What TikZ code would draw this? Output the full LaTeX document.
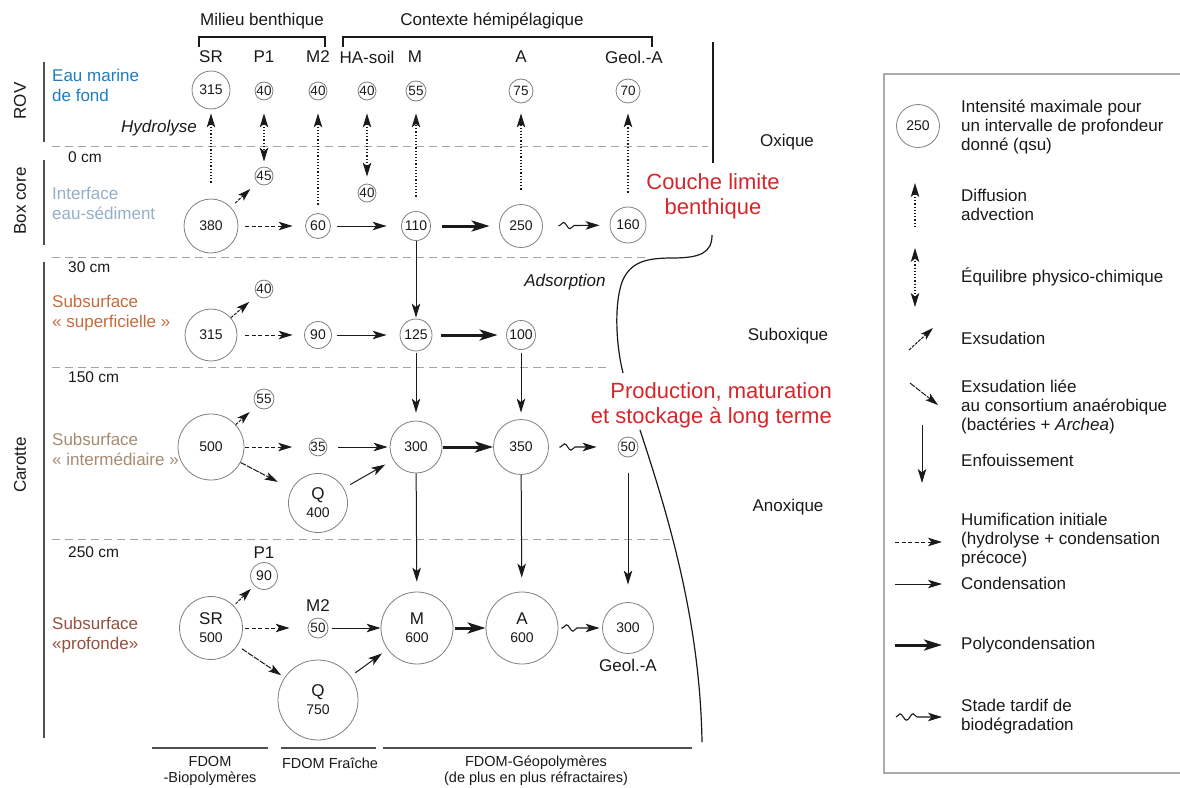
\documentclass[tikz,border=0pt]{standalone}
\usepackage{fontspec}
\setmainfont{Liberation Sans}
\usetikzlibrary{arrows.meta,decorations.pathmorphing}

\definecolor{seablue}{HTML}{1F7DC0}
\definecolor{ifblue}{HTML}{94AFC7}
\definecolor{supcol}{HTML}{C56B3D}
\definecolor{intcol}{HTML}{A58B70}
\definecolor{profcol}{HTML}{95513F}
\definecolor{redtxt}{HTML}{D7262B}
\definecolor{ringgray}{HTML}{808080}
\definecolor{sepgray}{HTML}{A3A3A3}
\definecolor{ink}{HTML}{1A1A1A}
\definecolor{bargray}{HTML}{505050}
\definecolor{boxgray}{HTML}{ABABAB}

\newcommand{\bigletter}[1]{{\fontsize{17}{18}\selectfont #1}}

\tikzset{
  bub/.style={circle, draw=ringgray, line width=0.8pt, inner sep=0pt,
    minimum size=#1, font=\fontsize{14}{18}\selectfont, text=ink, align=center},
  sbub/.style={bub=#1, font=\fontsize{13.5}{14}\selectfont},
  lab/.style={font=\fontsize{17}{20}\selectfont, text=ink, inner sep=0pt},
  leg/.style={font=\fontsize{17}{19}\selectfont, text=ink, inner sep=0pt, anchor=west, align=left},
  side/.style={font=\fontsize{17}{20}\selectfont, inner sep=0pt, anchor=west, align=left},
  depth/.style={font=\fontsize{15.5}{18}\selectfont, text=ink, inner sep=0pt, anchor=west},
  foot/.style={font=\fontsize{14.5}{16}\selectfont, text=ink, inner sep=0pt, align=center},
  redlab/.style={font=\fontsize{22}{25}\selectfont, text=redtxt, inner sep=0pt},
  sep/.style={draw=sepgray, line width=1pt, dash pattern=on 8pt off 5pt},
  bar/.style={draw=bargray, line width=1.6pt},
  head/.tip={Stealth[length=14pt,width=8.5pt,inset=3.5pt]},
  tip/.style={-head},
  cond/.style={draw=ink, line width=1pt, tip},
  poly/.style={draw=ink, line width=3pt, -{Stealth[length=18pt,width=11pt,inset=4.5pt]}},
  humi/.style={cond, dash pattern=on 4pt off 2.5pt},
  diff/.style={draw=ink, line width=1.1pt, dash pattern=on 1.2pt off 2pt, tip},
  equi/.style={draw=ink, line width=1.1pt, dash pattern=on 1.2pt off 2pt, head-head},
  exsud/.style={draw=ink, line width=1pt, dash pattern=on 3pt off 1.2pt,
    -{Stealth[length=13pt,width=8pt,inset=3pt]}},
  exsan/.style={draw=ink, line width=1pt, dash pattern=on 6pt off 1.2pt,
    -{Stealth[length=13pt,width=8pt,inset=3pt]}},
  sh/.style 2 args={shorten <=#1pt, shorten >=#2pt},
  wavy/.style n args={4}{cond, line width=1.1pt, decorate,
    decoration={snake, amplitude=3.2pt, segment length=13pt,
      pre length=#1pt, post length=#3pt},
    shorten <=#2pt, shorten >=#4pt},
}

\begin{document}
\begin{tikzpicture}[x=1pt,y=-1pt]
\clip (0,0) rectangle (1180,787);
\fill[white] (0,0) rectangle (1180,787);

% ---------- column headings ----------
\node[lab] (hmil) at (262,21) {Milieu benthique};
\node[lab] (hctx) at (492,21) {Contexte hémipélagique};
\draw[draw=ink, line width=1.2pt] (199,47) -- (199,37) -- (325,37) -- (325,47);
\draw[draw=ink, line width=1.2pt] (343,47) -- (343,37) -- (652,37) -- (652,47);
\node[lab] (cSR) at (211,57) {SR};
\node[lab] (cP1) at (264,57) {P1};
\node[lab] (cM2) at (318,57) {M2};
\node[lab] (cHA) at (367,57) {HA-soil};
\node[lab] (cM)  at (415,57) {M};
\node[lab] (cA)  at (521,57) {A};
\node[lab] (cG)  at (634,57) {Geol.-A};

% ---------- left side: sampling and layers ----------
\draw[bar] (44,62) -- (44,142);
\draw[bar] (44,160) -- (44,245);
\draw[bar] (44,262) -- (44,738);
\node[lab, rotate=90] (tROV) at (20,101) {ROV};
\node[lab, rotate=90] (tBox) at (20,201) {Box core};
\node[lab, rotate=90] (tCar) at (20,465) {Carotte};

\node[side, text=seablue] (lEau) at (52,85) {Eau marine\\de fond};
\node[side, text=ifblue] (lInt) at (52,203) {Interface\\eau-sédiment};
\node[side, text=supcol] (lSup) at (52,313) {Subsurface\\« superficielle »};
\node[side, text=intcol] (lMid) at (52,449) {Subsurface\\« intermédiaire »};
\node[side, text=profcol] (lDeep) at (52,635) {Subsurface\\«profonde»};

\node[depth] (d0) at (68,157) {0 cm};
\node[depth] (d30) at (68,267) {30 cm};
\node[depth] (d150) at (68,377) {150 cm};
\node[depth] (d250) at (68,552) {250 cm};

% depth separators
\draw[sep] (52,146) -- (708,146);
\draw[sep] (52,257) -- (645,257);
\draw[sep] (52,367) -- (607,367);
\draw[sep] (52,539) -- (670,539);

\node[lab, font=\itshape\fontsize{17}{20}\selectfont, anchor=east] (tHyd) at (197,128) {Hydrolyse};
\node[lab, font=\itshape\fontsize{17}{20}\selectfont] (tAds) at (565,282) {Adsorption};

% ---------- row 1 : bottom sea water ----------
\node[bub=38pt] (r1sr) at (211,90) {315};
\node[sbub=18pt] (r1p1) at (264,91) {40};
\node[sbub=18pt] (r1m2) at (318,91) {40};
\node[sbub=18pt] (r1ha) at (367,91) {40};
\node[sbub=20pt] (r1m)  at (416,91) {55};
\node[sbub=24pt] (r1a)  at (521,91) {75};
\node[sbub=24pt] (r1g)  at (628,91) {70};

% ---------- row 2 : water-sediment interface ----------
\node[bub=54pt] (r2sr) at (211,226) {380};
\node[sbub=18pt] (r2p1) at (264,176) {45};
\node[sbub=18pt] (r2ha) at (367,193) {40};
\node[bub=25pt] (r2m2) at (318,226) {60};
\node[bub=29pt] (r2m)  at (416,226) {110};
\node[bub=43pt] (r2a)  at (521,226) {250};
\node[bub=36pt] (r2g)  at (628,225) {160};

% ---------- row 3 : shallow subsurface ----------
\node[bub=52pt] (r3sr) at (211,335) {315};
\node[sbub=17pt] (r3p1) at (264,289) {40};
\node[bub=27pt] (r3m2) at (318,335) {90};
\node[bub=32pt] (r3m)  at (416,335) {125};
\node[bub=29pt] (r3a)  at (521,335) {100};

% ---------- row 4 : intermediate subsurface ----------
\node[bub=66pt] (r4sr) at (211,447) {500};
\node[sbub=20pt] (r4p1) at (264,399) {55};
\node[sbub=17pt] (r4m2) at (318,447) {35};
\node[bub=59pt] (r4q)  at (318,503) {\bigletter{Q}\\400};
\node[bub=52pt] (r4m)  at (416,447) {300};
\node[bub=55pt] (r4a)  at (521,447) {350};
\node[sbub=20pt] (r4g)  at (628,447) {50};

% ---------- row 5 : deep subsurface ----------
\node[bub=63pt] (r5sr) at (211,628) {\bigletter{SR}\\500};
\node[bub=27pt] (r5p1) at (264,576) {90};
\node[sbub=20pt] (r5m2) at (318,628) {50};
\node[bub=80pt] (r5q)  at (318,700) {\bigletter{Q}\\750};
\node[bub=72pt] (r5m)  at (417,628) {\bigletter{M}\\600};
\node[bub=72pt] (r5a)  at (522,628) {\bigletter{A}\\600};
\node[bub=51pt] (r5g)  at (628,628) {300};
\node[lab] (nP1) at (264,553) {P1};
\node[lab] (nM2) at (318,606) {M2};
\node[lab] (nG)  at (628,665) {Geol.-A};

% ---------- fluxes towards the water column ----------
\draw[diff, sh={16}{4}]    (r2sr) -- (r1sr);
\draw[equi, sh={13}{5}]    (r1p1) -- (r2p1);
\draw[diff, sh={8.5}{13}]  (r2m2) -- (r1m2);
\draw[equi, sh={13}{7}]    (r1ha) -- (r2ha);
\draw[diff, sh={14.5}{12}] (r2m)  -- (r1m);
\draw[diff, sh={14.5}{10}] (r2a)  -- (r1a);
\draw[diff, sh={14}{10}]   (r2g)  -- (r1g);

% ---------- row 2 transformations ----------
\draw[exsud, sh={6}{9.4}]   (r2sr) -- (r2p1);
\draw[humi, sh={7}{12.5}]   (r2sr) -- (r2m2);
\draw[cond, sh={6.5}{14.5}] (r2m2) -- (r2m);
\draw[poly, sh={11.5}{9.5}] (r2m)  -- (r2a);
\draw[wavy={16.5}{15.5}{30}{10}] (r2a) -- (r2g);
\draw[cond, sh={0}{1}]      (r2m)  -- (r3m);

% ---------- row 3 transformations ----------
\draw[exsud, sh={0}{10.4}]  (r3sr) -- (r3p1);
\draw[humi, sh={8}{11.5}]   (r3sr) -- (r3m2);
\draw[cond, sh={5.5}{13}]   (r3m2) -- (r3m);
\draw[poly, sh={9}{8.5}]    (r3m)  -- (r3a);
\draw[cond, sh={2}{8}]      (r3m)  -- (r4m);
\draw[cond, sh={3.5}{6.5}]  (r3a)  -- (r4a);

% ---------- row 4 transformations ----------
\draw[exsud, sh={0}{8.9}]   (r4sr) -- (r4p1);
\draw[humi, sh={1}{16.5}]   (r4sr) -- (r4m2);
\draw[cond, sh={10.5}{2}]   (r4m2) -- (r4m);
\draw[poly, sh={1}{0}]      (r4m)  -- (r4a);
\draw[wavy={11.5}{10.5}{39}{21}] (r4a) -- (r4g);
\draw[exsan, sh={0}{15.6}]  (r4sr) -- (r4q);
\draw[cond, sh={7.2}{9}]    (r4q)  -- (r4m);
\draw[cond, sh={0}{10}]     (r4m)  -- (r5m);
\draw[cond, sh={0}{14}]     (r4a)  -- (r5a);
\draw[cond, sh={16}{17.5}]  (r4g)  -- (r5g);

% ---------- row 5 transformations ----------
\draw[exsud, sh={2.6}{4.4}] (r5sr) -- (r5p1);
\draw[humi, sh={2.5}{18}]   (r5sr) -- (r5m2);
\draw[cond, sh={4}{0}]      (r5m2) -- (r5m);
\draw[poly, sh={2}{0}]      (r5m)  -- (r5a);
\draw[wavy={4}{3}{19.5}{2.5}] (r5a) -- (r5g);
\draw[exsan, sh={5.3}{4}]   (r5sr) -- (r5q);
\draw[cond, sh={5.8}{6.8}]  (r5q)  -- (r5m);

% ---------- redox zones and boundary layer ----------
\draw[draw=ink, line width=1.2pt] (713,42) -- (713,163);
\node[redlab, align=center] (tCLB) at (713,196) {Couche limite\\benthique};
\node[redlab, align=right, anchor=east] (tPMS) at (832,405) {Production, maturation\\et stockage à long terme};
\draw[draw=ink, line width=1.2pt]
  (712,235) .. controls (712,253) and (700,258) .. (672,258)
  .. controls (646,258) and (630,262) .. (622,282)
  .. controls (614,305) and (616,345) .. (623,373);
\draw[draw=ink, line width=1.2pt]
  (640,430) .. controls (668,515) and (700,620) .. (702,742);
\node[lab] (zOx)  at (787,142) {Oxique};
\node[lab] (zSub) at (788,336) {Suboxique};
\node[lab] (zAn)  at (788,507) {Anoxique};

% ---------- FDOM classes ----------
\draw[bar] (152,748) -- (268,748);
\draw[bar] (281,748) -- (376,748);
\draw[bar] (383,748) -- (692,748);
\node[foot] (fBio) at (210,771) {FDOM\\-Biopolymères};
\node[foot] (fFra) at (330,763) {FDOM Fraîche};
\node[foot] (fGeo) at (536,771) {FDOM-Géopolymères\\(de plus en plus réfractaires)};

% ---------- legend ----------
\draw[draw=boxgray, line width=1.5pt] (884,74) rectangle (1200,773);
\node[bub=43pt] (lg250) at (918,126) {250};
\node[leg] (lgt1) at (961,127) {Intensité maximale pour\\un intervalle de profondeur\\donné (qsu)};
\coordinate (ldA) at (915,227); \coordinate (ldB) at (915,183);
\draw[diff] (ldA) -- (ldB);
\node[leg] (lgt2) at (961,205) {Diffusion\\advection};
\coordinate (leA) at (915,248); \coordinate (leB) at (915,307);
\draw[equi] (leA) -- (leB);
\node[leg] (lgt3) at (961,277) {Équilibre physico-chimique};
\coordinate (lxA) at (909,350); \coordinate (lxB) at (933,328);
\draw[exsud] (lxA) -- (lxB);
\node[leg] (lgt4) at (961,338) {Exsudation};
\coordinate (lyA) at (910,383); \coordinate (lyB) at (938,405);
\draw[exsan] (lyA) -- (lyB);
\node[leg] (lgt5) at (961,407) {Exsudation liée\\au consortium anaérobique\\(bactéries + \textit{Archea})};
\coordinate (lbA) at (922,425); \coordinate (lbB) at (922,483);
\draw[cond] (lbA) -- (lbB);
\node[leg] (lgt6) at (961,460) {Enfouissement};
\coordinate (lhA) at (895,542); \coordinate (lhB) at (942,542);
\draw[humi] (lhA) -- (lhB);
\node[leg] (lgt7) at (961,540) {Humification initiale\\(hydrolyse + condensation\\précoce)};
\coordinate (lcA) at (895,584); \coordinate (lcB) at (942,584);
\draw[cond] (lcA) -- (lcB);
\node[leg] (lgt8) at (961,583) {Condensation};
\coordinate (lpA) at (895,645); \coordinate (lpB) at (942,645);
\draw[poly] (lpA) -- (lpB);
\node[leg] (lgt9) at (961,645) {Polycondensation};
\coordinate (lwA) at (896,717); \coordinate (lwB) at (942,717);
\draw[wavy={0}{0}{24}{0}] (lwA) -- (lwB);
\node[leg] (lgt10) at (961,717) {Stade tardif de\\biodégradation};
\end{tikzpicture}
\end{document}
